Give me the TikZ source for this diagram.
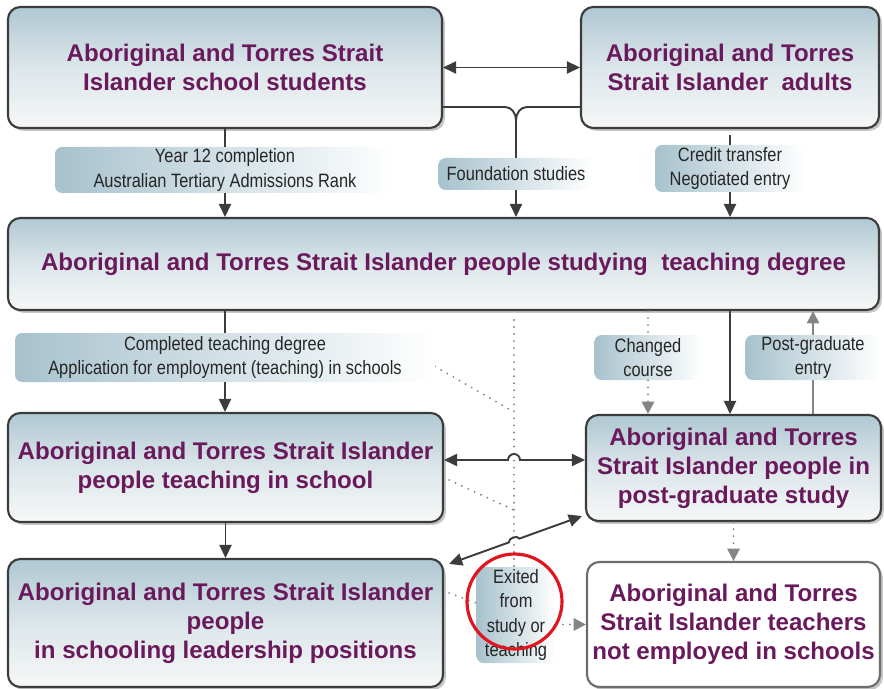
\documentclass[tikz,border=0pt]{standalone}
\usepackage{fontspec}
\setmainfont{Liberation Sans}
\newfontfamily\narrowsans[FakeStretch=0.85]{Liberation Sans}
\usetikzlibrary{arrows.meta,positioning,calc,shadows}
\definecolor{ink}{HTML}{3C3C3C}
\definecolor{plum}{HTML}{6A1A5C}
\definecolor{greyarr}{HTML}{858585}
\definecolor{boxtop}{HTML}{AFC8D2}
\definecolor{boxmid}{HTML}{DCE6EA}
\definecolor{boxlow}{HTML}{F6F7F7}
\definecolor{tagblue}{HTML}{A7C2CD}
\definecolor{ringred}{HTML}{E0151F}
\tikzset{
  stagebox/.style={draw=ink,line width=1.2pt,rounded corners=7pt,
    top color=boxtop,bottom color=boxlow,middle color=boxmid,
    drop shadow={shadow xshift=1.6pt,shadow yshift=-1.6pt,fill=black!45},
    text=plum,align=center,inner sep=0pt,
    font=\bfseries\fontsize{13.7}{16.5}\selectfont},
  tagbox/.style={left color=tagblue,right color=white,rounded corners=4pt,
    text=black!85,align=center,inner sep=0pt,
    font=\narrowsans\fontsize{11}{14}\selectfont},
  plain/.style={ink,line width=1.1pt},
  flow/.style={plain,-{Triangle[length=7.5pt,width=7pt]}},
  both/.style={plain,{Triangle[length=7.5pt,width=7pt]}-{Triangle[length=7.5pt,width=7pt]}},
  faint/.style={greyarr,line width=1.1pt,-{Triangle[length=7pt,width=7pt]}},
  dotlink/.style={greyarr,line width=1.2pt,dash pattern=on 0pt off 4pt,line cap=round},
  dotflow/.style={dotlink,-{Triangle[length=7pt,width=7pt]}}
}
\begin{document}
\begin{tikzpicture}
  \useasboundingbox (0,0) rectangle (17.68,-13.78);

  % stages
  \node[stagebox,minimum width=8.68cm,minimum height=2.42cm] (pupils) at (4.5,-1.35)
       {Aboriginal and Torres Strait\\Islander school students};
  \node[stagebox,minimum width=5.96cm,minimum height=2.42cm] (adults) at (14.6,-1.35)
       {Aboriginal and Torres\\Strait Islander\ \ adults};
  \node[stagebox,minimum width=17.42cm,minimum height=1.84cm] (degree) at (8.87,-5.28)
       {Aboriginal and Torres Strait Islander people studying\ \ teaching degree};
  \node[stagebox,minimum width=8.7cm,minimum height=2.18cm] (teaching) at (4.51,-9.35)
       {Aboriginal and Torres Strait Islander\\people teaching in school};
  \node[stagebox,minimum width=5.9cm,minimum height=2.12cm] (postgrad) at (14.67,-9.36)
       {Aboriginal and Torres\\Strait Islander people in\\post-graduate study};
  \node[stagebox,minimum width=8.7cm,minimum height=2.56cm] (leaders) at (4.51,-12.46)
       {Aboriginal and Torres Strait Islander\\people\\in schooling leadership positions};
  \node[stagebox,top color=white,bottom color=white,middle color=white,draw=ink!75,
        minimum width=5.86cm,minimum height=2.5cm] (leavers) at (14.67,-12.49)
       {Aboriginal and Torres\\Strait Islander teachers\\not employed in schools};

  % routes
  \draw[both] (pupils) -- (adults);
  \coordinate (fork) at (10.32,-2.4);
  \draw[plain] ([yshift=-0.79cm]pupils.east) -- (10.1,-2.14) to[out=0,in=90] (fork);
  \draw[plain] ([yshift=-0.79cm]adults.west) -- (10.54,-2.14) to[out=180,in=90] (fork);

  \coordinate (drop) at (10.28,-6.4);
  \draw[dotlink] (drop) -- (10.28,-11.4);
  \draw[dotlink] (8.58,-7.26) -- (10.28,-8.24);
  \draw[dotlink] ($(teaching.east)+(0.1,-0.25)$) -- (10.28,-10.2);

  \coordinate (hop) at (10.28,-9.2);
  \draw[both] ([yshift=0.15cm]teaching.east) -- ([xshift=-0.12cm]hop)
        arc[start angle=180,end angle=0,radius=0.12] -- (postgrad.west |- hop);
  \coordinate (lowS) at ($(leaders.north east)+(0.1,-0.12)$);
  \coordinate (lowT) at ($(postgrad.south west)+(-0.06,0.12)$);
  \draw[both] (lowS) -- ($(lowS)!0.45!(lowT)$) to[bend left=75] ($(lowS)!0.53!(lowT)$) -- (lowT);

  % entry tags
  \node[tagbox,minimum width=6.8cm,minimum height=0.92cm] (atar) at (4.5,-3.4)
       {Year 12 completion\\Australian Tertiary Admissions Rank};
  \node[tagbox,minimum width=3.1cm,minimum height=0.64cm] (found) at (10.32,-3.48)
       {Foundation studies};
  \node[tagbox,minimum width=3.0cm,minimum height=0.94cm] (credit) at (14.6,-3.37)
       {Credit transfer\\Negotiated entry};
  \node[tagbox,minimum width=8.4cm,minimum height=0.98cm] (hired) at (4.5,-7.15)
       {Completed teaching degree\\Application for employment (teaching) in schools};
  \node[tagbox,minimum width=2.14cm,minimum height=0.9cm] (changed) at (12.96,-7.15)
       {Changed\\course};
  \node[tagbox,minimum width=2.7cm,minimum height=0.9cm] (pgentry) at (16.26,-7.15)
       {Post-graduate\\entry};
  \node[tagbox,minimum width=1.58cm,minimum height=1.92cm] (exited) at (10.32,-12.3)
       {Exited\\from\\study or\\teaching};

  \draw[plain] (pupils.south) -- (atar.north);
  \draw[flow] (atar.south) -- (atar.south |- degree.north);
  \draw[plain] (fork) -- (found.north);
  \draw[flow] (found.south) -- (found.south |- degree.north);
  \draw[plain] ([yshift=-0.12cm]adults.south) -- (credit.north);
  \draw[flow] (credit.south) -- (credit.south |- degree.north);

  \draw[plain] (hired.north |- degree.south) -- (hired.north);
  \draw[flow] (hired.south) -- (hired.south |- teaching.north);
  \draw[flow] (teaching.south) -- (teaching.south |- leaders.north);
  \draw[dotlink] (changed.north |- degree.south) -- (changed.north);
  \draw[dotflow] (changed.south) -- (changed.south |- postgrad.north);
  \draw[flow] (14.6,0 |- degree.south) -- (14.6,0 |- postgrad.north);
  \draw[greyarr,line width=1.1pt] (pgentry.south |- postgrad.north) -- (pgentry.south);
  \draw[faint] (pgentry.north) -- (pgentry.north |- degree.south);

  \draw[dotflow] (postgrad.south) -- (leavers.north);
  \draw[dotlink] ($(leaders.east)+(0.1,0.6)$) -- ($(exited.west)+(0,0.24)$);
  \draw[dotflow] (exited.east |- leavers.west) -- (leavers.west);

  \node[circle,draw=ringred,line width=1.8pt,minimum size=1.9cm] (ring) at (10.29,-12.03) {};
\end{tikzpicture}
\end{document}
